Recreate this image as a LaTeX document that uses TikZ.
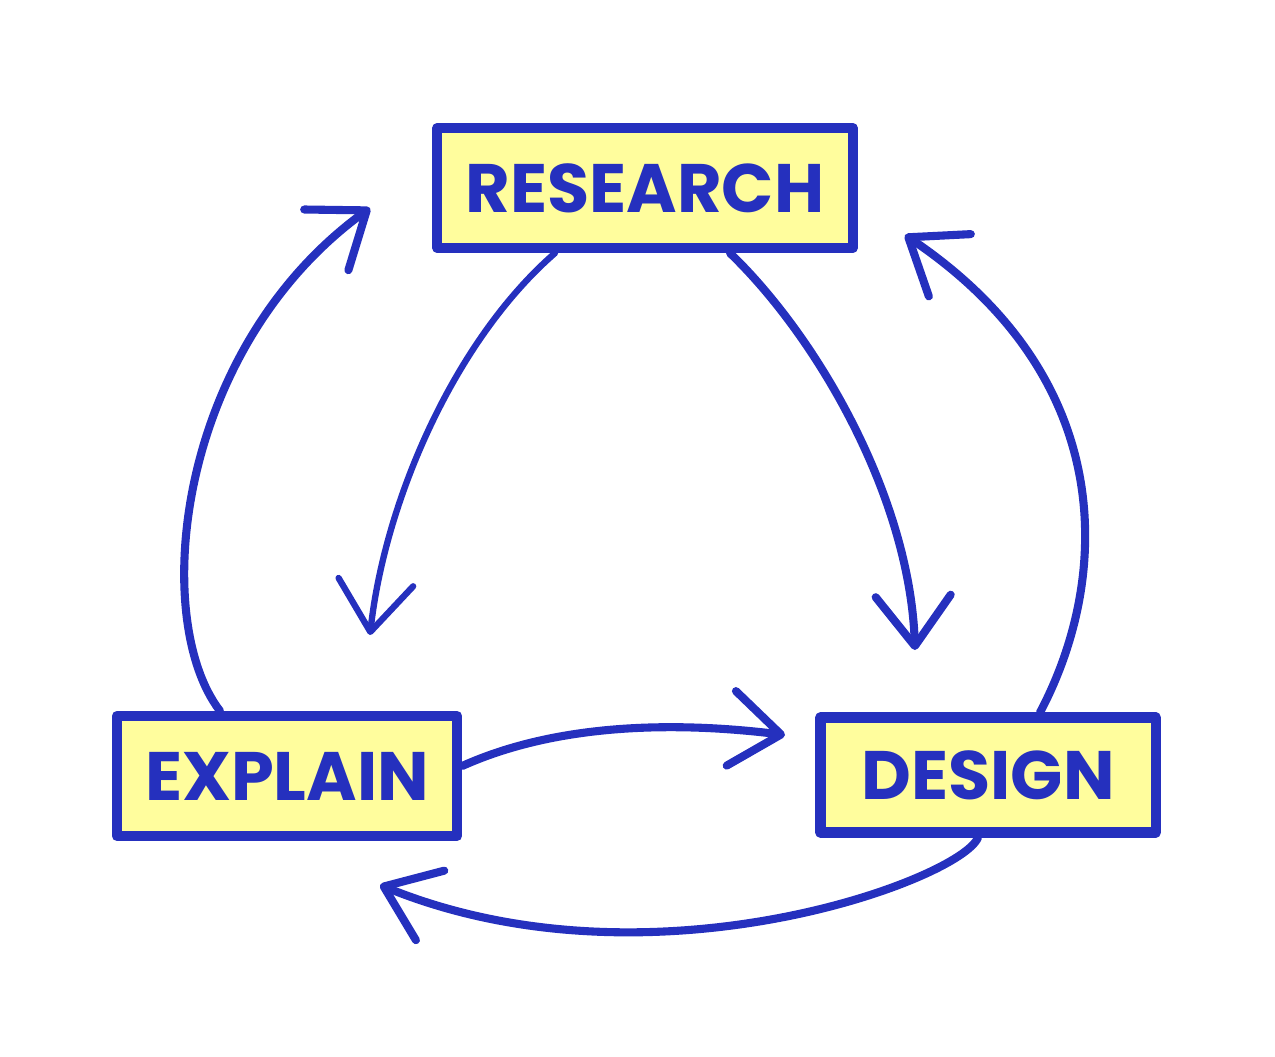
\documentclass[tikz,border=0pt]{standalone}
\usepackage{fontspec}
\setmainfont{Poppins}
\usetikzlibrary{arrows.meta}
\definecolor{inkblue}{HTML}{2530BE}
\definecolor{notepad}{HTML}{FFFD9D}
\begin{document}
\begin{tikzpicture}[
  x=0.01cm, y=-0.01cm,
  stage/.style={
    draw=inkblue,
    fill=notepad,
    line width=2.9pt,
    line join=round,
    text=inkblue,
    font=\fontsize{19.5}{23}\selectfont\bfseries,
    inner sep=6pt
  },
  flow/.style={
    draw=inkblue,
    line width=2.3pt,
    line cap=round,
    -{Straight Barb[length=5mm,width=7.5mm,round]}
  }
]
\useasboundingbox (0,0) rectangle (1275,1057);
\node[stage, minimum width=4.15cm, minimum height=1.2cm] (research) at (645,188) {RESEARCH};
\node[stage, minimum width=3.4cm, minimum height=1.2cm] (explain) at (287,776) {EXPLAIN};
\node[stage, minimum width=3.35cm, minimum height=1.15cm] (design) at (988,775) {DESIGN};
\draw[flow, line width=1.8pt] ([xshift=-0.9cm]research.south) .. controls (455,340) and (385,500) .. (370,635);
\draw[flow] ([xshift=0.85cm]research.south) .. controls (820,340) and (910,500) .. (915,650);
\draw[flow] ([xshift=0.52cm]design.north) .. controls (1110,580) and (1120,380) .. (905,235);
\draw[flow] ([xshift=-0.67cm]explain.north) .. controls (150,620) and (175,350) .. (370,208);
\draw[flow] ([yshift=0.1cm]explain.east) .. controls (560,722) and (680,722) .. (785,735);
\draw[flow] ([xshift=-0.1cm]design.south) .. controls (960,880) and (650,995) .. (380,885);
\end{tikzpicture}
\end{document}
